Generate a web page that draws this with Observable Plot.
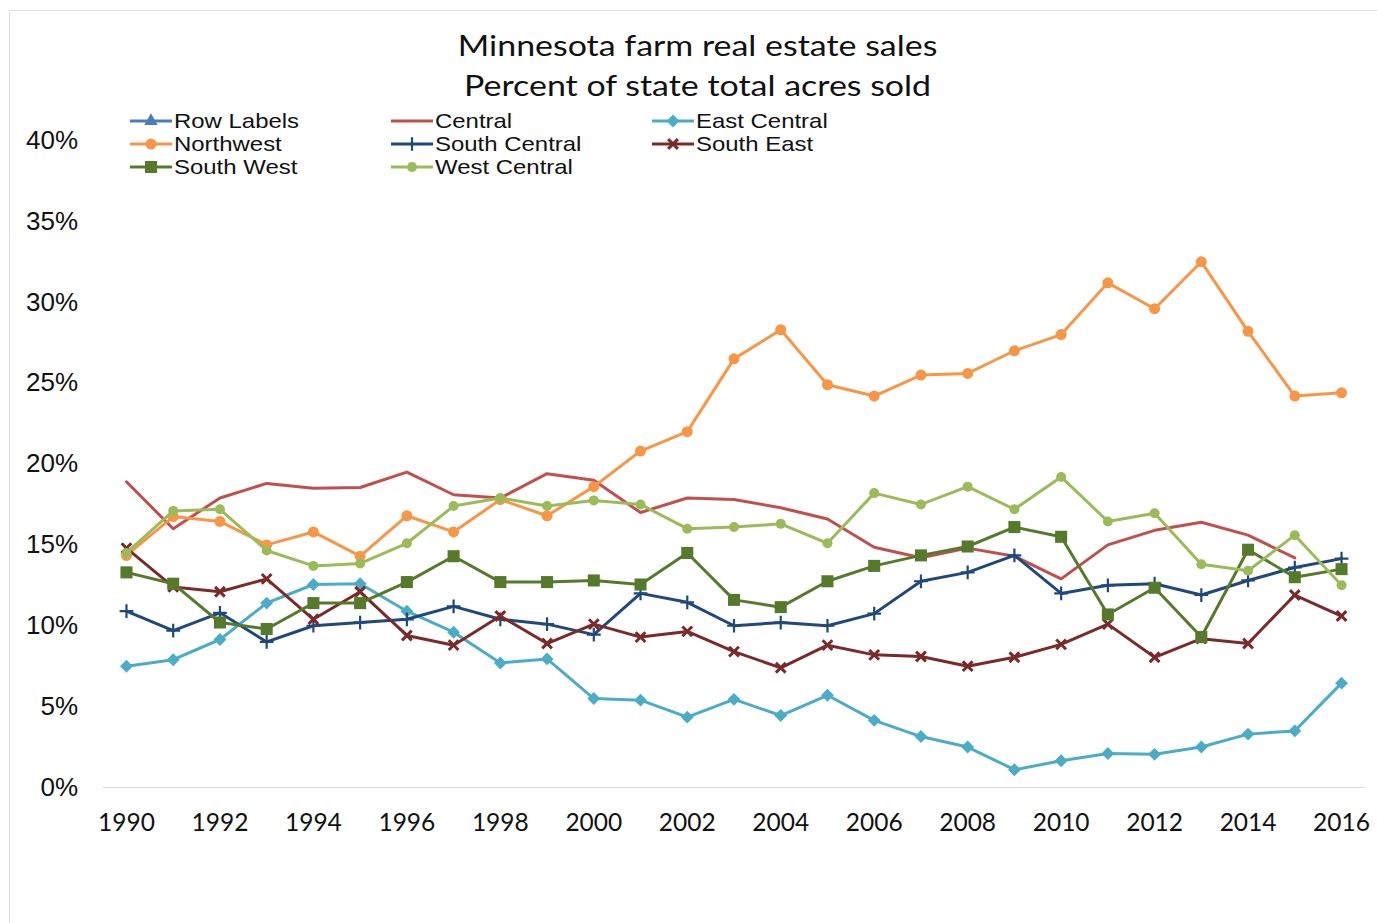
<!DOCTYPE html>
<html>
<head>
<meta charset="utf-8">
<script src="https://cdn.jsdelivr.net/npm/d3@7"></script>
<script src="https://cdn.jsdelivr.net/npm/@observablehq/plot@0.6"></script>
<style>
  html, body { margin: 0; padding: 0; background: #fff; }
  #wrap { position: relative; width: 1377px; height: 923px; overflow: hidden; }
  #frame { position: absolute; left: 9px; top: 10px; width: 1380px; height: 930px; border: 1px solid #dcdcdc; box-sizing: border-box; }
  #title { position: absolute; left: 0; width: 1395px; top: 25px; text-align: center; font-family: Lato, sans-serif; font-size: 29px; line-height: 40px; color: #111; transform: scaleX(1.17); transform-origin: 697px 0; }
  #legend { position: absolute; left: 130px; top: 109px; font-family: "Liberation Sans", Arial, sans-serif; font-size: 21px; color: #111; }
  .item { position: absolute; display: flex; align-items: center; white-space: nowrap; height: 23px; }
  .item svg { margin-right: 2px; }
  .item span { display: inline-block; transform: scaleX(1.14); transform-origin: 0 50%; }
  #chart { position: absolute; left: 0; top: 0; }
</style>
</head>
<body>
<div id="wrap">
  <div id="frame"></div>
  <div id="chart"></div>
  <div id="title">Minnesota farm real estate sales<br>Percent of state total acres sold</div>
  <div id="legend"></div>
</div>
<script>
const years = d3.range(1990, 2017);
const seriesNames = ["Row Labels", "Central", "East Central", "Northwest", "South Central", "South East", "South West", "West Central"];
const seriesColors = ["#4a7ebb", "#c0504d", "#4bacc6", "#f79646", "#1f497d", "#7b2a2a", "#567a2b", "#9bbb59"];
const xTicks = [1990, 1992, 1994, 1996, 1998, 2000, 2002, 2004, 2006, 2008, 2010, 2012, 2014, 2016];
const yTicks = [0, 5, 10, 15, 20, 25, 30, 35, 40];

const central = [18.9, 16.0, 17.9, 18.8, 18.5, 18.55, 19.5, 18.1, 17.9, 19.4, 19.0, 17.0, 17.9, 17.8, 17.3, 16.6, 14.85, 14.2, 14.8, 14.3, 12.9, 15.0, 15.9, 16.4, 15.6, 14.2, null];
const eastCentral = [7.5, 7.9, 9.15, 11.4, 12.55, 12.6, 10.9, 9.6, 7.7, 7.95, 5.5, 5.4, 4.35, 5.45, 4.45, 5.7, 4.15, 3.15, 2.5, 1.1, 1.65, 2.1, 2.05, 2.5, 3.3, 3.5, 6.45];
const northwest = [14.35, 16.75, 16.45, 15.0, 15.8, 14.3, 16.8, 15.8, 17.8, 16.8, 18.6, 20.8, 22.0, 26.5, 28.3, 24.9, 24.2, 25.5, 25.6, 27.0, 28.0, 31.2, 29.6, 32.5, 28.2, 24.2, 24.4];
const southCentral = [10.9, 9.7, 10.8, 9.0, 10.0, 10.2, 10.4, 11.2, 10.4, 10.1, 9.45, 12.0, 11.45, 10.0, 10.2, 10.0, 10.75, 12.75, 13.3, 14.35, 12.0, 12.5, 12.6, 11.9, 12.8, 13.6, 14.15];
const southEast = [14.8, 12.4, 12.1, 12.9, 10.4, 12.1, 9.4, 8.8, 10.6, 8.9, 10.1, 9.3, 9.65, 8.4, 7.4, 8.8, 8.2, 8.1, 7.5, 8.05, 8.85, 10.1, 8.05, 9.2, 8.9, 11.9, 10.6];
const southWest = [13.3, 12.6, 10.2, 9.8, 11.4, 11.4, 12.7, 14.3, 12.7, 12.7, 12.8, 12.55, 14.5, 11.6, 11.15, 12.75, 13.7, 14.35, 14.9, 16.1, 15.5, 10.7, 12.35, 9.3, 14.7, 13.0, 13.5];
const westCentral = [14.5, 17.1, 17.2, 14.65, 13.7, 13.85, 15.1, 17.4, 17.9, 17.4, 17.75, 17.5, 16.0, 16.1, 16.3, 15.1, 18.2, 17.5, 18.6, 17.2, 19.2, 16.45, 16.95, 13.8, 13.4, 15.6, 12.5];

const seriesValues = {
  "Row Labels": [],
  "Central": central,
  "East Central": eastCentral,
  "Northwest": northwest,
  "South Central": southCentral,
  "South East": southEast,
  "South West": southWest,
  "West Central": westCentral
};

const data = [];
for (const name of seriesNames) {
  seriesValues[name].forEach((v, i) => {
    if (v != null) data.push({series: name, year: years[i], value: v});
  });
}

const markerSpec = {
  "Row Labels": {symbol: "triangle", r: 5, mode: "fill"},
  "Central": null,
  "East Central": {symbol: "diamond2", r: 5.8, mode: "fill"},
  "Northwest": {symbol: "circle", r: 5.5, mode: "fill"},
  "South Central": {symbol: "plus", r: 4.5, mode: "stroke", sw: 2.2},
  "South East": {symbol: "times", r: 4.5, mode: "stroke", sw: 3},
  "South West": {symbol: "square", r: 6.8, mode: "fill"},
  "West Central": {symbol: "circle", r: 5, mode: "fill"}
};

const marks = [
  Plot.ruleY([0], {stroke: "#d9d9d9", strokeWidth: 1.2})
];
seriesNames.forEach((name, i) => {
  const sub = data.filter(d => d.series === name);
  if (!sub.length) return;
  marks.push(Plot.line(sub, {x: "year", y: "value", stroke: seriesColors[i], strokeWidth: 3, strokeLinejoin: "round"}));
  const m = markerSpec[name];
  if (m) {
    if (m.mode === "fill") {
      marks.push(Plot.dot(sub, {x: "year", y: "value", symbol: () => m.symbol, r: m.r, fill: seriesColors[i], stroke: "none"}));
    } else {
      marks.push(Plot.dot(sub, {x: "year", y: "value", symbol: () => m.symbol, r: m.r, stroke: seriesColors[i], strokeWidth: m.sw, fill: "none"}));
    }
  }
});
marks.push(Plot.axisY({ticks: yTicks, tickSize: 0, tickPadding: 25, tickFormat: d => d + "%", fontSize: 26, fontFamily: "Liberation Sans, Arial, sans-serif", fill: "#111"}));
marks.push(Plot.axisX({ticks: xTicks, tickSize: 0, tickPadding: 26, tickFormat: d => String(d), fontSize: 24.5, fontFamily: "Lato, sans-serif", fill: "#111"}));

const chart = Plot.plot({
  width: 1377,
  height: 923,
  marginTop: 140,
  marginBottom: 136,
  marginLeft: 102.6,
  marginRight: 12.6,
  style: {background: "transparent", overflow: "visible"},
  x: {domain: [1989.5, 2016.5], label: null},
  y: {domain: [0, 40], label: null},
  symbol: {type: "identity"},
  marks
});
document.getElementById("chart").appendChild(chart);

// legend
const legend = document.getElementById("legend");
const colX = [0, 261, 522];
seriesNames.forEach((name, i) => {
  const col = i % 3, row = Math.floor(i / 3);
  const div = document.createElement("div");
  div.className = "item";
  div.style.left = colX[col] + "px";
  div.style.top = (row * 23) + "px";
  const m = markerSpec[name];
  const svg = d3.create("svg").attr("width", 42).attr("height", 16);
  svg.append("line").attr("x1", 0).attr("x2", 42).attr("y1", 8).attr("y2", 8).attr("stroke", seriesColors[i]).attr("stroke-width", 3);
  if (m) {
    const symMap = {triangle: d3.symbolTriangle, diamond2: d3.symbolDiamond2, circle: d3.symbolCircle, plus: d3.symbolPlus, times: d3.symbolTimes, square: d3.symbolSquare};
    const p = d3.symbol(symMap[m.symbol], Math.PI * m.r * m.r)();
    const path = svg.append("path").attr("d", p).attr("transform", "translate(21,8)");
    if (m.mode === "fill") path.attr("fill", seriesColors[i]);
    else path.attr("fill", "none").attr("stroke", seriesColors[i]).attr("stroke-width", m.sw);
  }
  div.appendChild(svg.node());
  const span = document.createElement("span");
  span.textContent = name;
  div.appendChild(span);
  legend.appendChild(div);
});
</script>
</body>
</html>
